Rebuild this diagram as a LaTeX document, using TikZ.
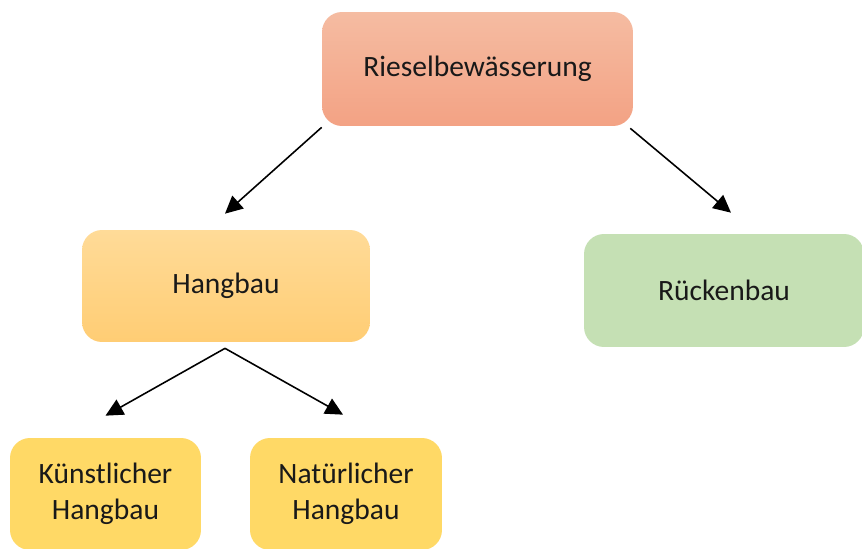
\documentclass[tikz,border=0pt]{standalone}
\usepackage{fontspec}
\setmainfont{Carlito}
\usepackage{xcolor}
\usetikzlibrary{arrows.meta,positioning}
\definecolor{rieseltop}{HTML}{F5BCA2}
\definecolor{rieselbot}{HTML}{F3A284}
\definecolor{hangtop}{HTML}{FFDB98}
\definecolor{hangbot}{HTML}{FFCD74}
\definecolor{rueckgreen}{HTML}{C5E0B4}
\definecolor{subyellow}{HTML}{FFD966}

\begin{document}
\begin{tikzpicture}[x=0.02cm,y=-0.02cm,
    box/.style={rounded corners=0.4cm,align=center,inner sep=0pt,
      font=\fontsize{16.8}{20.5}\selectfont,text=black!90},
    arr/.style={-{Triangle[length=3.5mm,width=3.4mm]},line width=0.9pt}]
  % page
  \clip (0,0) rectangle (862,548);
  \fill[white] (0,0) rectangle (862,548);
  % Nodes
  \node[box,top color=rieseltop,bottom color=rieselbot,
    minimum width=6.22cm,minimum height=2.28cm] (riesel) at (477.5,69)
    {Rieselbewässerung};
  \node[box,top color=hangtop,bottom color=hangbot,
    minimum width=5.76cm,minimum height=2.24cm] (hang) at (226,286)
    {Hangbau};
  \node[box,fill=rueckgreen,
    minimum width=5.6cm,minimum height=2.26cm] (rueck) at (724,290.5)
    {Rückenbau};
  \node[box,fill=subyellow,
    minimum width=3.82cm,minimum height=2.24cm] (kuenst) at (105.5,494)
    {Künstlicher\\Hangbau};
  \node[box,fill=subyellow,
    minimum width=3.84cm,minimum height=2.24cm] (natur) at (346,494)
    {Natürlicher\\Hangbau};
  % Arrow ends
  \coordinate (rieselL) at ([yshift=-0.02cm]riesel.south west);
  \coordinate (rieselR) at ([xshift=-0.06cm,yshift=-0.04cm]riesel.south east);
  \coordinate (hangtip) at ([xshift=-0.02cm,yshift=0.32cm]hang.north);
  \coordinate (rueckTip) at ([xshift=0.14cm,yshift=0.42cm]rueck.north);
  \coordinate (hangfoot) at ([xshift=-0.02cm,yshift=-0.12cm]hang.south);
  \coordinate (kuenstTip) at ([yshift=0.44cm]kuenst.north);
  \coordinate (naturTip) at ([xshift=-0.06cm,yshift=0.46cm]natur.north);
  % Arrows
  \draw[arr] (rieselL) -- (hangtip);
  \draw[arr] (rieselR) -- (rueckTip);
  \draw[arr] (hangfoot) -- (kuenstTip);
  \draw[arr] (hangfoot) -- (naturTip);
\end{tikzpicture}
\end{document}
